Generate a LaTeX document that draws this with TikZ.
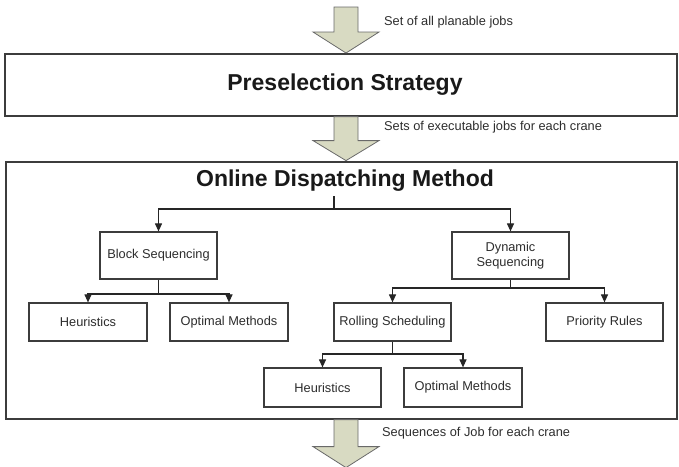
\documentclass[tikz,border=0pt]{standalone}
\usepackage{fontspec}
\setmainfont{Liberation Sans}
\usetikzlibrary{arrows.meta}
\definecolor{arrowfill}{RGB}{216,218,194}
\definecolor{arrowline}{RGB}{105,105,105}
\definecolor{boxline}{RGB}{60,60,60}
\definecolor{inktext}{RGB}{45,45,45}
\begin{document}
\begin{tikzpicture}[x=1pt,y=-1pt,
  panel/.style={draw=boxline, line width=1.2pt, fill=white, inner sep=0pt},
  leaf/.style={draw=boxline, line width=1.2pt, fill=white, inner sep=0pt,
    align=center, text=inktext, font=\fontsize{12.8}{15}\selectfont},
  headline/.style={inner sep=0pt, text=black!90, font=\fontsize{23}{27}\selectfont\bfseries},
  note/.style={inner sep=0pt, anchor=west, text=inktext, font=\fontsize{12.8}{15}\selectfont},
  link/.style={draw=black!85, line width=1.1pt},
  arr/.style={link, -{Triangle[length=8pt,width=7pt]}},
  pics/bigarrow/.style 2 args={code={
    \draw[draw=arrowline, fill=arrowfill, line width=0.8pt, line join=miter]
      (-12,0) -- (12,0) -- (12,#1) -- (33,#1) -- (0,#1+#2) -- (-33,#1) -- (-12,#1) -- cycle;
  }}]
\useasboundingbox (0,0) rectangle (679,466);

% outer stages
\node[panel, minimum width=672pt, minimum height=62pt] (pre) at (341,85) {};
\node[headline] (pretitle) at (345,85) {Preselection Strategy};
\node[panel, minimum width=671pt, minimum height=257pt] (odm) at (341.5,290.5) {};
\node[headline] (odmtitle) at (345,181) {Online Dispatching Method};

% method boxes
\node[leaf, minimum width=117pt, minimum height=47pt] (block) at (158.5,255.5) {Block Sequencing};
\node[leaf, minimum width=117pt, minimum height=47pt] (dyn) at (510.5,255.5) {Dynamic\\Sequencing};
\node[leaf, minimum width=118pt, minimum height=38pt] (heurA) at (88,322) {Heuristics};
\node[leaf, minimum width=118pt, minimum height=38pt] (optA) at (229,322) {Optimal Methods};
\node[leaf, minimum width=117pt, minimum height=38pt] (roll) at (392.5,322) {Rolling Scheduling};
\node[leaf, minimum width=117pt, minimum height=38pt] (prio) at (604.5,322) {Priority Rules};
\node[leaf, minimum width=117pt, minimum height=39pt] (heurB) at (322.5,387.5) {Heuristics};
\node[leaf, minimum width=118pt, minimum height=39pt] (optB) at (463,387.5) {Optimal Methods};

% tree connectors
\coordinate (t0) at (334,196);
\coordinate (j0) at (334,209);
\draw[link] (t0) -- (j0);
\draw[arr] (j0) -| (block.north);
\draw[arr] (j0) -| (dyn.north);

\coordinate (j1) at (158.5,294);
\draw[link] (block.south) -- (j1);
\draw[arr] (j1) -| (heurA.north);
\draw[arr] (j1) -| (optA.north);

\coordinate (j2) at (510.5,288);
\draw[link] (dyn.south) -- (j2);
\draw[arr] (j2) -| (roll.north);
\draw[arr] (j2) -| (prio.north);

\coordinate (j3) at (392.5,354);
\draw[link] (roll.south) -- (j3);
\draw[arr] (j3) -| (heurB.north);
\draw[arr] (j3) -| (optB.north);

% flow arrows between stages
\coordinate (inflow) at (346,7);
\pic at (inflow) {bigarrow={25}{21}};
\pic at (pre.south -| inflow) {bigarrow={24}{20}};
\pic at (odm.south -| inflow) {bigarrow={27}{21}};

% flow labels
\node[note] (lblA) at (384,22) {Set of all planable jobs};
\node[note] (lblB) at (384,127) {Sets of executable jobs for each crane};
\node[note] (lblC) at (382,433) {Sequences of Job for each crane};
\end{tikzpicture}
\end{document}
